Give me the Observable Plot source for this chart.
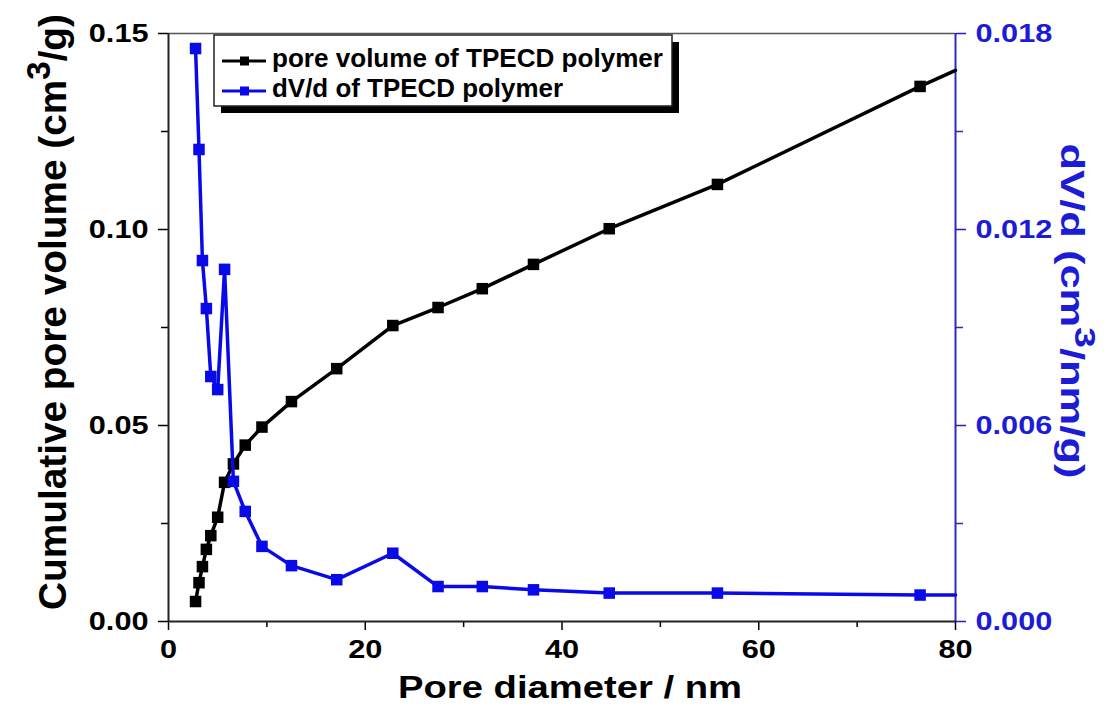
<!DOCTYPE html>
<html><head><meta charset="utf-8">
<script src="https://cdn.jsdelivr.net/npm/d3@7"></script>
<script src="https://cdn.jsdelivr.net/npm/@observablehq/plot@0.6"></script>
<style>body{margin:0;background:#fff}#chart svg{display:block}</style>
</head><body><div id="chart"></div>
<script>
// Pore diameter (nm) of the measured points
const poreDiameter = [2.75, 3.1, 3.45, 3.85, 4.3, 5.0, 5.7, 6.6, 7.8, 9.5, 12.5, 17.1, 22.8, 27.4, 31.9, 37.1, 44.8, 55.8, 76.4];
// Cumulative pore volume (cm3/g)
const cumulativeVolume = [0.0051, 0.0099, 0.0140, 0.0184, 0.0219, 0.0266, 0.0355, 0.0402, 0.0450, 0.0496, 0.0561, 0.0645, 0.0755, 0.0801, 0.0849, 0.0911, 0.1002, 0.1115, 0.1365];
// dV/d (cm3/nm/g)
const dVd = [0.01754, 0.01445, 0.01105, 0.00958, 0.0075, 0.0071, 0.01078, 0.00429, 0.00337, 0.0023, 0.00171, 0.00128, 0.00209, 0.00107, 0.00107, 0.00097, 0.00087, 0.00087, 0.00081];
// continuation of both curves to the right edge of the frame (no marker there)
const edgeDiameter = [80];
const edgeVolume = [0.1406];
const edgeDVd = [0.00081];

const xMajor = [0, 20, 40, 60, 80];
const xMinor = [10, 30, 50, 70];
const yMajor = [0, 0.05, 0.10, 0.15];
const yMinor = [0.025, 0.075, 0.125];
const rMajor = [0, 0.006, 0.012, 0.018];
const rMinor = [0.003, 0.009, 0.015];

const seriesNames = ["pore volume of TPECD polymer", "dV/d of TPECD polymer"];
const xTitle = "Pore diameter / nm";
const yTitle = ["Cumulative pore volume (cm", "3", "/g)"];
const rTitle = ["dV/d (cm", "3", "/nm/g)"];

const k = 0.15 / 0.018;
const BLUE = "#0a0ae8";
const BLUE_TXT = "#1c1cd6";

const pts = poreDiameter.map((d, i) => ({d, v: cumulativeVolume[i], r: dVd[i]}));
const linePts = pts.concat(edgeDiameter.map((d, i) => ({d, v: edgeVolume[i], r: edgeDVd[i]})));

const W = 1113, H = 713;
const plot = Plot.plot({
  width: W, height: H,
  marginLeft: 168, marginRight: 158, marginTop: 33, marginBottom: 92,
  x: {domain: [0, 80]},
  y: {domain: [0, 0.15]},
  style: {fontFamily: "'Liberation Sans', Arial, sans-serif", fontWeight: "bold", background: "white", color: "black"},
  marks: [
    Plot.axisX({ticks: xMinor, tickSize: 6, tickFormat: () => "", label: null, strokeWidth: 1.5}),
    Plot.axisX({ticks: xMajor, tickSize: 9, tickPadding: 9, fontSize: 26, label: null, strokeWidth: 1.5}),
    Plot.axisY({ticks: yMinor, tickSize: 7, tickFormat: () => "", label: null, strokeWidth: 1.5}),
    Plot.axisY({ticks: yMajor, tickSize: 10, tickPadding: 10, tickFormat: d => d.toFixed(2), fontSize: 26, label: null, strokeWidth: 1.5}),
    Plot.axisY({anchor: "right", ticks: rMinor.map(v => v * k), tickSize: 7, tickFormat: () => "", label: null, color: "#2a2ac0", strokeWidth: 1.5}),
    Plot.axisY({anchor: "right", ticks: rMajor.map(v => v * k), tickSize: 10, tickPadding: 10, tickFormat: d => (d / k).toFixed(3), fontSize: 26, label: null, color: BLUE_TXT, strokeWidth: 1.5}),
    Plot.ruleY([0.15], {stroke: "#555", strokeWidth: 1.5}),
    Plot.ruleX([80], {stroke: "#2a2ac0", strokeWidth: 2}),
    Plot.ruleX([0], {stroke: "#222", strokeWidth: 2}),
    Plot.ruleY([0], {stroke: "#222", strokeWidth: 2}),
    Plot.line(linePts, {x: "d", y: "v", stroke: "black", strokeWidth: 3.5}),
    Plot.dot(pts, {x: "d", y: "v", symbol: "square", fill: "black", r: 6.5}),
    Plot.line(linePts, {x: "d", y: d => d.r * k, stroke: BLUE, strokeWidth: 3.5}),
    Plot.dot(pts, {x: "d", y: d => d.r * k, symbol: "square", fill: BLUE, r: 6.5})
  ]
});
document.getElementById("chart").appendChild(plot);

const svg = d3.select(plot);
// widen tick labels a little (the reference type is horizontally stretched)
svg.selectAll("g[aria-label$='tick label'] text").each(function() {
  const t = this.getAttribute("transform");
  if (t && t.includes("translate")) this.setAttribute("transform", t + " scale(1.18,1)");
});

const FONT = "'Liberation Sans', Arial, sans-serif";
function titled(g, parts, size, len) {
  const t = g.append("text").attr("font-family", FONT).attr("font-weight", "bold")
    .attr("font-size", size).attr("text-anchor", "middle")
    .attr("textLength", len).attr("lengthAdjust", "spacingAndGlyphs");
  t.append("tspan").text(parts[0]);
  t.append("tspan").attr("dy", -0.42 * size).attr("font-size", size * 0.85).text(parts[1]);
  t.append("tspan").attr("dy", 0.42 * size).text(parts[2]);
  return t;
}
// x title
svg.append("text").attr("x", 570).attr("y", 698).attr("font-family", FONT).attr("font-weight", "bold")
  .attr("font-size", 31).attr("text-anchor", "middle").attr("textLength", 344).attr("lengthAdjust", "spacingAndGlyphs")
  .text(xTitle);
// left title
titled(svg.append("g").attr("transform", "translate(66,312) rotate(-90)"), yTitle, 38, 596).attr("fill", "black");
// right title
titled(svg.append("g").attr("transform", "translate(1061,311) rotate(90)"), rTitle, 34, 335).attr("fill", BLUE_TXT);

// legend
const lg = svg.append("g");
lg.append("rect").attr("x", 221).attr("y", 42).attr("width", 458).attr("height", 71).attr("fill", "black");
lg.append("rect").attr("x", 214).attr("y", 35).attr("width", 458).attr("height", 71).attr("fill", "white").attr("stroke", "#222").attr("stroke-width", 1.5);
const rows = [{c: "black", y: 61, lenT: 391}, {c: BLUE, y: 91, lenT: 291}];
rows.forEach((r, i) => {
  lg.append("line").attr("x1", 222).attr("x2", 266).attr("y1", r.y).attr("y2", r.y).attr("stroke", r.c).attr("stroke-width", 3);
  lg.append("rect").attr("x", 240).attr("y", r.y - 4.5).attr("width", 9).attr("height", 9).attr("fill", r.c);
  lg.append("text").attr("x", 272).attr("y", r.y + 6).attr("font-family", FONT).attr("font-weight", "bold")
    .attr("text-anchor", "start")
    .attr("font-size", 26).attr("fill", "black").attr("textLength", r.lenT).attr("lengthAdjust", "spacingAndGlyphs")
    .text(seriesNames[i]);
});
</script>
</body></html>
